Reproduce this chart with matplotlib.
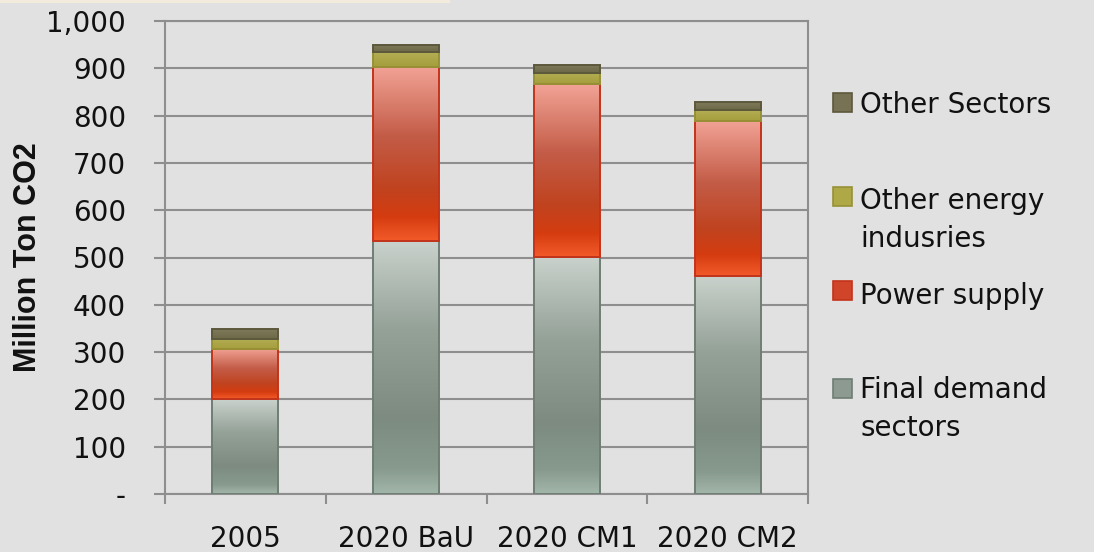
import numpy as np
import matplotlib
matplotlib.use("Agg")
import matplotlib.pyplot as plt
from matplotlib.colors import LinearSegmentedColormap
from matplotlib.patches import Rectangle

# ---- data ----
categories = ["2005", "2020 BaU", "2020 CM1", "2020 CM2"]
final_demand = [200, 535, 502, 461]
power_supply = [106, 368, 364, 328]
other_energy = [22, 31, 25, 23]
other_sectors = [21, 16, 17, 16]
series_names = ["Final demand\nsectors", "Power supply",
                "Other energy\nindusries", "Other Sectors"]
y_ticks = [0, 100, 200, 300, 400, 500, 600, 700, 800, 900, 1000]
y_ticklabels = ["-", "100", "200", "300", "400", "500", "600", "700",
                "800", "900", "1,000"]

# ---- styles ----
BG = "#e1e1e1"
GRID = "#8e8e8e"
grad_stops = [
    [(0.0, "#c9d2cc"), (0.35, "#95a298"), (0.7, "#7d8b80"), (0.9, "#879a8d"), (1.0, "#a3b6aa")],
    [(0.0, "#f2a396"), (0.4, "#c35c47"), (0.7, "#c0431f"), (0.86, "#d43c10"), (1.0, "#f35a2a")],
    [(0.0, "#b4ae55"), (1.0, "#a59e3c")],
    [(0.0, "#7e7a5a"), (1.0, "#6c6848")],
]
edge_colors = ["#6e7e74", "#c3341a", "#979136", "#5c583c"]
legend_colors = ["#8d9a91", "#d0442a", "#aea846", "#777253"]

fig = plt.figure(figsize=(10.94, 5.52), dpi=100, facecolor=BG)
ax = fig.add_axes([165 / 1094, 1 - 494 / 552, 643 / 1094, 473 / 552])
ax.set_facecolor(BG)

x = np.arange(len(categories))
width = 0.41
data = [final_demand, power_supply, other_energy, other_sectors]
bottom = np.zeros(len(categories))
for vals, stops, ec in zip(data, grad_stops, edge_colors):
    cmap = LinearSegmentedColormap.from_list("g", stops)
    bars = ax.bar(x, vals, width, bottom=bottom, color="none",
                  edgecolor=ec, linewidth=1.4, zorder=4)
    for b in bars:
        x0, y0 = b.get_x(), b.get_y()
        w, h = b.get_width(), b.get_height()
        grad = np.linspace(0, 1, 256).reshape(-1, 1)
        im = ax.imshow(grad, cmap=cmap, aspect="auto",
                       extent=[x0, x0 + w, y0, y0 + h], origin="upper",
                       zorder=3, interpolation="bilinear")
        im.set_clip_path(b)
    bottom += np.array(vals)

ax.set_xlim(-0.5, len(categories) - 0.5)
ax.set_ylim(0, 1000)

# y axis
ax.set_yticks(y_ticks)
ax.set_yticklabels(y_ticklabels)
ax.tick_params(axis="y", length=8, width=1.5, color=GRID, pad=20,
               labelsize=20, labelcolor="#111111")
ax.yaxis.grid(True, color=GRID, linewidth=1.5)
ax.set_axisbelow(True)

# x axis: boundary ticks, centred labels
ax.set_xticks(np.arange(-0.5, len(categories), 1.0))
ax.set_xticklabels([])
ax.set_xticks(x, minor=True)
ax.set_xticklabels(categories, minor=True)
ax.tick_params(axis="x", which="major", length=7, width=1.5, color=GRID)
ax.tick_params(axis="x", which="minor", length=0, pad=22,
               labelsize=20, labelcolor="#111111")

for s in ["left", "bottom", "right", "top"]:
    ax.spines[s].set_color(GRID)
    ax.spines[s].set_linewidth(1.5)

ax.set_ylabel("Million Ton CO2", fontsize=22, fontweight="bold",
              family="Liberation Sans", color="#111111")
ax.yaxis.set_label_coords((43 - 165) / 643, (494 - 257) / 473)

# manual legend (top to bottom: reversed stack order)
leg_patch_y = [102, 196, 290, 388]
leg_text_y = [104, 200, 295, 389]
order = [3, 2, 1, 0]
for i, idx in enumerate(order):
    py = leg_patch_y[i]
    fig.patches.append(Rectangle((833 / 1094, 1 - (py + 10) / 552),
                                 19 / 1094, 19 / 552,
                                 transform=fig.transFigure,
                                 facecolor=legend_colors[idx],
                                 edgecolor=edge_colors[idx], linewidth=1.2))
    fig.text(860 / 1094, 1 - (leg_text_y[i] - 13) / 552, series_names[idx],
             fontsize=20, color="#111111", va="top", ha="left",
             linespacing=1.45)

# thin beige strip at the top
fig.patches.append(Rectangle((0, 1 - 3 / 552), 450 / 1094, 3 / 552,
                             transform=fig.transFigure, facecolor="#f3ecdc",
                             edgecolor="none"))

fig.savefig("out.png", dpi=100, facecolor=BG)
